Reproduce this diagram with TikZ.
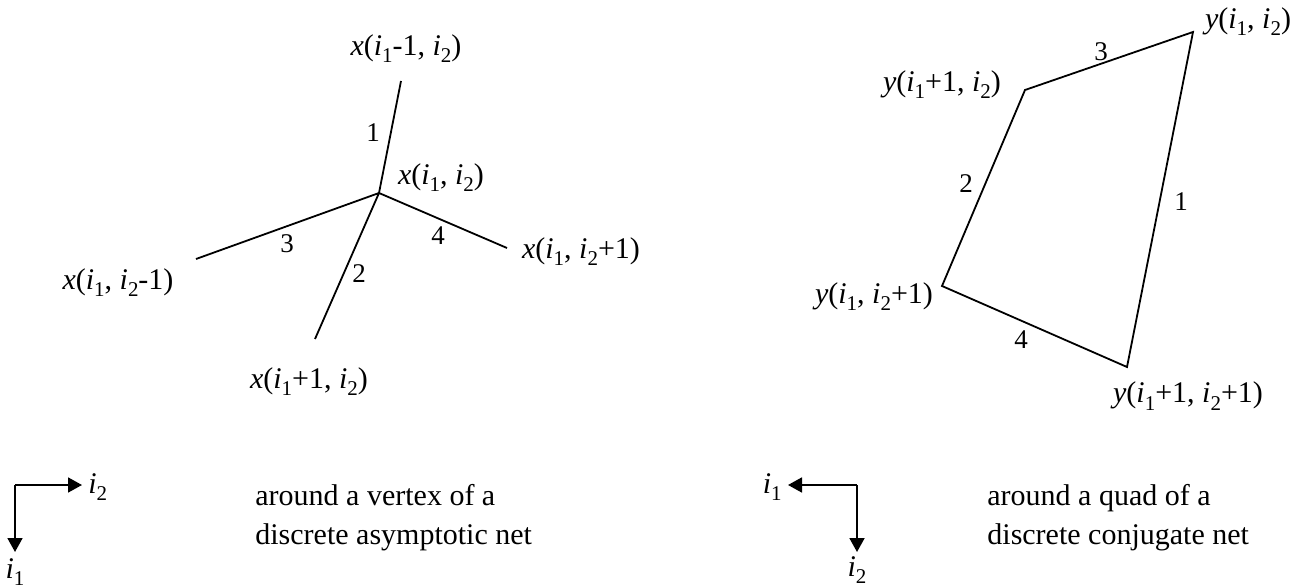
\documentclass[tikz,border=0pt]{standalone}
\usepackage{fontspec}
\setmainfont{Liberation Serif}
\usepackage{tikz}
\usetikzlibrary{arrows.meta}

\newcommand{\ii}[1]{\textit{i}\raisebox{-3.5pt}{\fontsize{10.5}{11}\selectfont #1}}

\begin{document}
\begin{tikzpicture}[
  x=0.5pt, y=-0.5pt,
  edge/.style={line width=0.9pt},
  vlabel/.style={font=\fontsize{15}{18}\selectfont, inner sep=0pt, anchor=base},
  num/.style={font=\fontsize{13.5}{16}\selectfont, inner sep=0pt},
  caption/.style={font=\fontsize{15}{19.5}\selectfont, align=left, anchor=west, inner sep=0pt},
  axis/.style={-{Triangle[length=7pt,width=7.5pt]}, line width=0.9pt}
]
\useasboundingbox (0,0) rectangle (1306,587);

% vertex of the asymptotic net
\coordinate (x0) at (379,193);
\coordinate (xn) at (401,81);
\coordinate (xs) at (315,339);
\coordinate (xw) at (196,259);
\coordinate (xe) at (507,248);
\draw[edge] (x0) -- (xn) (x0) -- (xs) (x0) -- (xw) (x0) -- (xe);

\node[vlabel] (lx0) at (441,185) {\textit{x}(\ii1, \ii2)};
\node[vlabel] (lxn) at (406,56) {\textit{x}(\ii1-1, \ii2)};
\node[vlabel] (lxs) at (309,389) {\textit{x}(\ii1+1, \ii2)};
\node[vlabel] (lxw) at (118,290) {\textit{x}(\ii1, \ii2-1)};
\node[vlabel] (lxe) at (581,259) {\textit{x}(\ii1, \ii2+1)};

\node[num] (n1) at (373,133) {1};
\node[num] (n2) at (359,274) {2};
\node[num] (n3) at (287,244) {3};
\node[num] (n4) at (438,236) {4};

% quad of the conjugate net
\coordinate (ya) at (1193,32);
\coordinate (yb) at (1025,90);
\coordinate (yc) at (942,286);
\coordinate (yd) at (1127,367);
\draw[edge] (ya) -- (yb) -- (yc) -- (yd) -- cycle;

\node[vlabel] (lya) at (1248,29) {\textit{y}(\ii1, \ii2)};
\node[vlabel] (lyb) at (942,92) {\textit{y}(\ii1+1, \ii2)};
\node[vlabel] (lyc) at (874,304) {\textit{y}(\ii1, \ii2+1)};
\node[vlabel] (lyd) at (1188,403) {\textit{y}(\ii1+1, \ii2+1)};

\node[num] (m1) at (1181,202) {1};
\node[num] (m2) at (966,184) {2};
\node[num] (m3) at (1101,52) {3};
\node[num] (m4) at (1021,340) {4};

% index directions
\coordinate (la) at (15,485);
\coordinate (la2) at (82,485);
\coordinate (la1) at (15,552);
\draw[axis] (la) -- (la2);
\draw[axis] (la) -- (la1);
\node[vlabel, anchor=west] (lai2) at (88,487) {\ii2};
\node[vlabel] (lai1) at (15,578) {\ii1};

\coordinate (ra) at (857,485);
\coordinate (ra1) at (788,485);
\coordinate (ra2) at (857,552);
\draw[axis] (ra) -- (ra1);
\draw[axis] (ra) -- (ra2);
\node[vlabel, anchor=east] (rai1) at (782,487) {\ii1};
\node[vlabel] (rai2) at (857,576) {\ii2};

\node[caption] (capa) at (255,518) {around a vertex of a\\discrete asymptotic net};
\node[caption] (capb) at (987,518) {around a quad of a\\discrete conjugate net};
\end{tikzpicture}
\end{document}
